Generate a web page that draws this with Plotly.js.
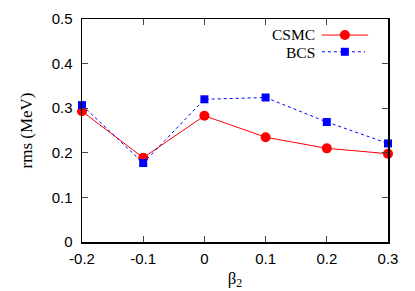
<!DOCTYPE html>
<html>
<head>
<meta charset="utf-8">
<script src="https://cdn.plot.ly/plotly-3.0.1.min.js"></script>
<style>html,body{margin:0;padding:0;background:#fff;}#chart{width:415px;height:291px;}</style>
</head>
<body>
<div id="chart"></div>
<script>
var beta2 = [-0.2, -0.1, 0.0, 0.1, 0.2, 0.3];
var csmcRms = [0.293, 0.189, 0.283, 0.235, 0.210, 0.198];
var bcsRms = [0.307, 0.177, 0.320, 0.324, 0.269, 0.221];
var xTickVals = [-0.2, -0.1, 0, 0.1, 0.2, 0.3];
var xTickText = ['-0.2', '-0.1', '0', '0.1', '0.2', '0.3'];
var yTickVals = [0, 0.1, 0.2, 0.3, 0.4, 0.5];
var yTickText = ['0', '0.1', '0.2', '0.3', '0.4', '0.5'];
var seriesNames = ['CSMC', 'BCS'];

var traces = [
  {x: beta2, y: csmcRms, name: seriesNames[0], type: 'scatter', mode: 'lines+markers',
   line: {color: '#ff0000', width: 1}, marker: {color: '#ff0000', size: 10, symbol: 'circle'}, cliponaxis: false},
  {x: beta2, y: bcsRms, name: seriesNames[1], type: 'scatter', mode: 'lines+markers',
   line: {color: '#0000ff', width: 1, dash: 'dot'}, marker: {color: '#0000ff', size: 8, symbol: 'square'}, cliponaxis: false}
];

var tickFont = {family: 'Liberation Sans, Arial, sans-serif', size: 15, color: '#000'};
var serif = 'Liberation Serif, Times New Roman, serif';

var layout = {
  width: 415, height: 291,
  margin: {l: 82, r: 27, t: 19, b: 49},
  paper_bgcolor: '#fff', plot_bgcolor: '#fff',
  showlegend: false,
  xaxis: {range: [-0.2, 0.3], tickvals: xTickVals, ticktext: xTickText, ticks: 'inside', ticklen: 6, tickwidth: 1,
    showline: true, linecolor: '#000', linewidth: 1.5, mirror: 'allticks', showgrid: false, zeroline: false,
    ticklabelstandoff: 2,
    tickfont: tickFont, title: {text: 'β<sub>2</sub>', font: {family: serif, size: 17, color: '#000'}, standoff: 6}},
  yaxis: {range: [0, 0.5], tickvals: yTickVals, ticktext: yTickText, ticks: 'inside', ticklen: 6, tickwidth: 1,
    showline: true, linecolor: '#000', linewidth: 1.5, mirror: 'allticks', showgrid: false, zeroline: false,
    ticklabelstandoff: 5,
    tickfont: tickFont, title: {text: 'rms (MeV)', font: {family: serif, size: 17, color: '#000'}, standoff: 14}},
  annotations: [
    {text: seriesNames[0], xref: 'paper', yref: 'paper', x: 0.765, y: 0.931, xanchor: 'right', yanchor: 'middle', showarrow: false,
     borderpad: 0, font: {family: serif, size: 15.5, color: '#000'}},
    {text: seriesNames[1], xref: 'paper', yref: 'paper', x: 0.765, y: 0.851, xanchor: 'right', yanchor: 'middle', showarrow: false,
     borderpad: 0, font: {family: serif, size: 15.5, color: '#000'}}
  ],
  shapes: [
    {type: 'line', xref: 'paper', yref: 'paper', x0: 0.784, x1: 0.935, y0: 0.928, y1: 0.928, line: {color: '#ff0000', width: 1}},
    {type: 'circle', xref: 'paper', yref: 'paper', xsizemode: 'pixel', ysizemode: 'pixel', xanchor: 0.859, yanchor: 0.928,
     x0: -5, x1: 5, y0: -5, y1: 5, fillcolor: '#ff0000', line: {width: 0}},
    {type: 'line', xref: 'paper', yref: 'paper', x0: 0.784, x1: 0.925, y0: 0.853, y1: 0.853, line: {color: '#0000ff', width: 1, dash: 'dot'}},
    {type: 'rect', xref: 'paper', yref: 'paper', xsizemode: 'pixel', ysizemode: 'pixel', xanchor: 0.859, yanchor: 0.853,
     x0: -4, x1: 4, y0: -4, y1: 4, fillcolor: '#0000ff', line: {width: 0}}
  ]
};

Plotly.newPlot('chart', traces, layout, {staticPlot: true, displayModeBar: false});
</script>
</body>
</html>
